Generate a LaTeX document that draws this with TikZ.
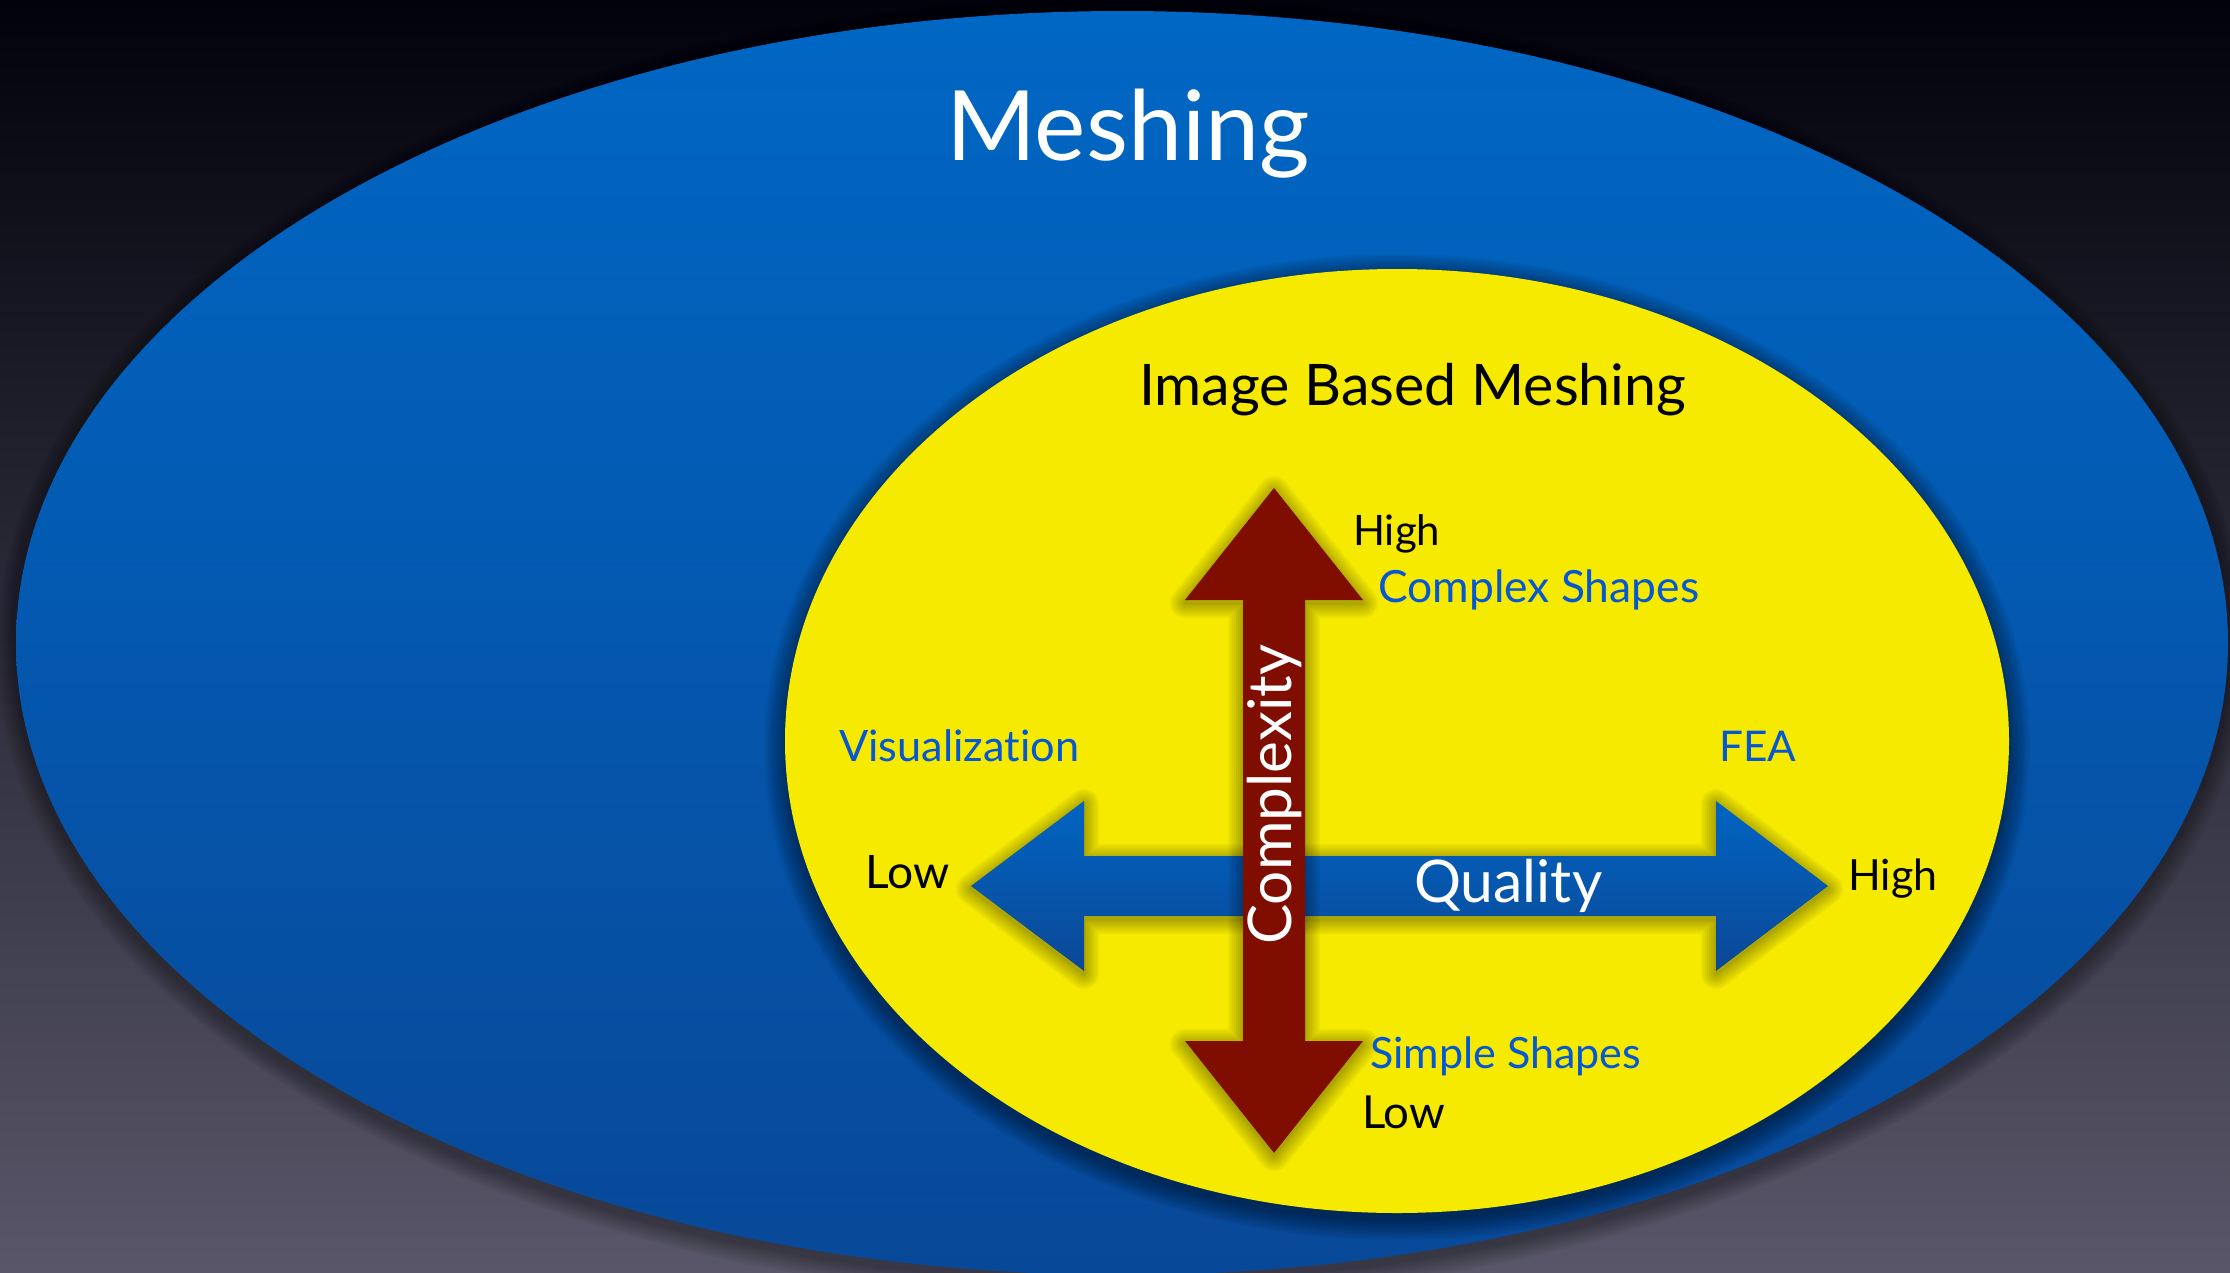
\documentclass[tikz,border=0pt]{standalone}
\usepackage{fontspec}
\setmainfont{Lato}[Ligatures={NoCommon}]
\usetikzlibrary{shapes.geometric}
\definecolor{bgtop}{RGB}{2,2,12}
\definecolor{bgmid}{RGB}{34,31,54}
\definecolor{bgbot}{RGB}{88,86,104}
\definecolor{bluetop}{RGB}{0,103,196}
\definecolor{bluebot}{RGB}{8,72,152}
\definecolor{ybody}{RGB}{245,234,0}
\definecolor{darkred}{RGB}{128,14,0}
\definecolor{txtblue}{RGB}{5,88,210}
\definecolor{arrtop}{RGB}{0,100,194}
\definecolor{arrbot}{RGB}{12,72,150}
\newcommand\fitw[2]{\resizebox{#1pt}{!}{#2}}
\newcommand\QualityArrow[1]{\path[#1] (971,886) -- (1084,801) -- (1084,856) -- (1716,856) -- (1716,801) -- (1828,886) -- (1716,971) -- (1716,916) -- (1084,916) -- (1084,971) -- cycle;}
\newcommand\ComplexArrow[1]{\path[#1] (1274,488) -- (1363,600) -- (1305,600) -- (1305,1041) -- (1363,1041) -- (1274,1153) -- (1185,1041) -- (1243,1041) -- (1243,600) -- (1185,600) -- cycle;}
\begin{document}
\begin{tikzpicture}[x=1pt,y=-1pt,
  lbl/.style={inner sep=0pt, anchor=base west, font=\fontsize{40}{48}\selectfont},
  glow/.style={black, opacity=0.04, line join=round},
  ellshadow/.style={black, opacity=0.035}]
\useasboundingbox (0,0) rectangle (2230,1272);
\shade[top color=bgtop, middle color=bgmid, bottom color=bgbot] (0,0) rectangle (2230,1272);
% outer ellipse shadow
\foreach \k in {2,4,...,20}{
  \fill[ellshadow] (1122,649) ellipse [x radius=1106+\k, y radius=632+\k];
}
\node[ellipse, inner sep=0pt, minimum width=2212pt, minimum height=1264pt,
      top color=bluetop, bottom color=bluebot] (outer) at (1122,643) {};
\node[lbl, text=white] (meshing) at (946,160) {\fitw{364}{Meshing}};
% inner ellipse shadow
\foreach \k in {1,3,...,21}{
  \fill[ellshadow, opacity=0.045] (1397,747) ellipse [x radius=612+\k, y radius=472+\k];
}
\node[ellipse, inner sep=0pt, minimum width=1224pt, minimum height=944pt,
      fill=ybody] (inner) at (1397,741) {};
\node[lbl, text=black] (ibm) at (1139,405) {\fitw{547}{Image Based Meshing}};
% quality arrow
\begin{scope}[yshift=-3pt]
\foreach \w in {30,26,22,18,14,10,6,3}{
  \QualityArrow{draw, glow, line width=\w pt}
}
\end{scope}
\QualityArrow{top color=arrtop, bottom color=arrbot}
% complexity arrow
\begin{scope}[yshift=-3pt]
\foreach \w in {30,26,22,18,14,10,6,3}{
  \ComplexArrow{draw, glow, line width=\w pt}
}
\end{scope}
\ComplexArrow{fill=darkred}
\coordinate (qtip) at (971,886);
\coordinate (ctip) at (1274,488);
% labels
\node[lbl, text=white] (quality) at (1414,902) {\fitw{188}{Quality}};
\node[lbl, text=white, rotate=90] (complexity) at (1291,945) {\fitw{300}{Complexity}};
\node[lbl, text=black] (hightop) at (1353,545) {\fitw{87}{High}};
\node[lbl, text=txtblue] (complexsh) at (1378,602) {\fitw{321}{Complex Shapes}};
\node[lbl, text=txtblue] (vis) at (839,761) {\fitw{240}{Visualization}};
\node[lbl, text=txtblue] (fea) at (1719,761) {\fitw{77}{FEA}};
\node[lbl, text=black] (lowleft) at (865,888) {\fitw{84}{Low}};
\node[lbl, text=black] (highright) at (1848,890) {\fitw{89}{High}};
\node[lbl, text=txtblue] (simplesh) at (1370,1068) {\fitw{271}{Simple Shapes}};
\node[lbl, text=black] (lowbot) at (1362,1128) {\fitw{83}{Low}};
\end{tikzpicture}
\end{document}
